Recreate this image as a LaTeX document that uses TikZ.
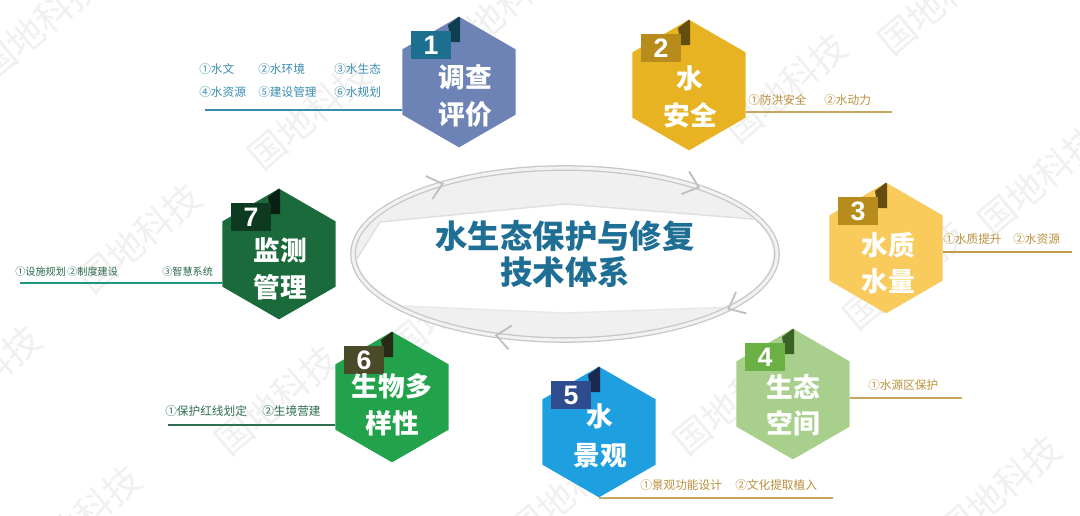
\documentclass[tikz,border=0pt]{standalone}
\usepackage{fontspec}
\usepackage{xcolor}
\usepackage{tikz}
\usetikzlibrary{shapes,arrows.meta,positioning,decorations.markings}

\newfontfamily\cjk{Noto Sans CJK SC}
\newfontfamily\numfont{Liberation Sans}

\definecolor{hexA}{HTML}{6D83B5}
\definecolor{hexB}{HTML}{E8B322}
\definecolor{hexC}{HTML}{F8CB5C}
\definecolor{hexD}{HTML}{A8D08C}
\definecolor{hexE}{HTML}{1E9FE0}
\definecolor{hexF}{HTML}{22A24A}
\definecolor{hexG}{HTML}{1B6A3C}
\definecolor{tabA}{HTML}{1D6F8F}
\definecolor{tabB}{HTML}{B88C1C}
\definecolor{tabD}{HTML}{6BB044}
\definecolor{tabE}{HTML}{2E4C8E}
\definecolor{tabF}{HTML}{494A28}
\definecolor{tabG}{HTML}{0E3A22}
\definecolor{coretext}{HTML}{1F6E94}
\definecolor{labA}{HTML}{3A8DB0}
\definecolor{labB}{HTML}{B8903A}
\definecolor{labF}{HTML}{2F6F4F}
\definecolor{labG}{HTML}{2A6A4A}

\begin{document}
\begin{tikzpicture}[x=0.025cm, y=-0.025cm,
    hexa/.style={regular polygon, regular polygon sides=6, shape border rotate=30,
        minimum size=3.25cm, inner sep=0pt},
    hextitle/.style={font=\cjk\bfseries\fontsize{19}{26}\selectfont, text=white, align=center, inner sep=0pt},
    numtab/.style={minimum width=1cm, minimum height=0.7cm, inner sep=0pt, text=white,
        font=\numfont\bfseries\fontsize{19}{19}\selectfont},
    itemtext/.style={font=\cjk\fontsize{8.3}{16.4}\selectfont, inner sep=0pt, anchor=west, align=left},
    labline/.style={line width=0.9pt},
    chev/.style={gray!50, line width=1.3pt},
    wmark/.style={font=\cjk\fontsize{26}{26}\selectfont, text=black!6, rotate=40, inner sep=0pt}
]
\useasboundingbox[fill=white] (0,0) rectangle (1080,515);

% watermark
\foreach \p [count=\i] in {(40,25),(310,115),(500,10),(786,88),(940,0),(1040,180),
    (140,238),(-20,380),(450,305),(905,275),(735,400),(570,490),(277,400),(80,520),(1000,490)}
    \node[wmark] (w\i) at \p {国地科技};

% centre
\coordinate (c0) at (565,254);
\fill[gray!12] (c0) ellipse [x radius=212, y radius=86];
\begin{scope}
    \clip (c0) ellipse [x radius=208, y radius=82];
    \fill[white] (355,262) -- (380,222) -- (565,204) -- (790,222) -- (790,305) -- (565,313) -- (380,305) -- cycle;
    \draw[gray!25, line width=1pt] (355,262) -- (380,222) -- (565,204) -- (790,222);
    \draw[gray!18, line width=1pt] (355,262) -- (380,305) -- (565,313) -- (790,305);
\end{scope}
\draw[draw=gray!45, double=gray!10, double distance=2.2pt, line width=0.9pt] (c0) ellipse [x radius=212, y radius=86];
\path[postaction={decorate}, decoration={markings,
        mark=at position 0.08 with {\arrow[chev]{Straight Barb[length=10pt, width=17pt]}},
        mark=at position 0.322 with {\arrow[chev]{Straight Barb[length=10pt, width=17pt]}},
        mark=at position 0.625 with {\arrow[chev]{Straight Barb[length=10pt, width=17pt]}},
        mark=at position 0.89 with {\arrow[chev]{Straight Barb[length=10pt, width=17pt]}}}]
    (c0) ellipse [x radius=212, y radius=86];
\node[font=\cjk\bfseries\fontsize{23}{25.6}\selectfont, text=coretext, align=center] (core) at (c0) {水生态保护与修复\\技术体系};

% underlines first, hexagons cover their ends
\coordinate (e1) at (205,110);
\coordinate (e2) at (892,112);
\coordinate (e3) at (1072,252);
\coordinate (e4) at (962,398);
\coordinate (e5) at (833,498);
\coordinate (e6) at (168,425);
\coordinate (e7) at (20,283);

\node[hexa] (h1) at (459,82) {};
\node[hexa] (h2) at (689,85) {};
\node[hexa] (h3) at (886,248) {};
\node[hexa] (h4) at (793,394) {};
\node[hexa] (h5) at (599,432) {};
\node[hexa] (h6) at (392,397) {};
\node[hexa] (h7) at (279,254) {};

\draw[labline, labA] (e1) -- (e1 -| h1.west);
\draw[labline, labB!80] (e2 -| h2.east) -- (e2);
\draw[labline, labB!90] (e3 -| h3.east) -- (e3);
\draw[labline, labB!80] (e4 -| h4.east) -- (e4);
\draw[labline, labB!80] (e5 -| h5.south) -- (e5);
\draw[labline, labF] (e6) -- (e6 -| h6.west);
\draw[labline, labG!70!cyan] (e7) -- (e7 -| h7.west);

\foreach \h/\c in {h1/hexA, h2/hexB, h3/hexC, h4/hexD, h5/hexE, h6/hexF, h7/hexG}
    \fill[\c] (\h.corner 1) -- (\h.corner 2) -- (\h.corner 3) -- (\h.corner 4) -- (\h.corner 5) -- (\h.corner 6) -- cycle;

% number tabs with a folded corner
\foreach \h/\c/\n in {h1/tabA/1, h2/tabB/2, h3/tabB/3, h4/tabD/4, h5/tabE/5, h6/tabF/6, h7/tabG/7} {
    \fill[\c!55!black] ([shift={(-11,-57)}]\h.center) -- (\h.90) -- ([shift={(1,-64)}]\h.center)
        -- ([shift={(1,-40)}]\h.center) -- ([shift={(-8,-40)}]\h.center) -- cycle;
    \node[numtab, fill=\c] (n\n) at ([shift={(-28,-37)}]\h.center) {\n};
}

\node[hextitle] (t1) at ([shift={(6,14)}]h1.center) {调查\\评价};
\node[hextitle] (t2) at ([shift={(1,12)}]h2.center) {水\\安全};
\node[hextitle] (t3) at ([shift={(2,15)}]h3.center) {水质\\水量};
\node[hextitle] (t4) at ([shift={(0,11)}]h4.center) {生态\\空间};
\node[hextitle, font=\cjk\bfseries\fontsize{19}{28}\selectfont] (t5) at ([shift={(1,4)}]h5.center) {水\\景观};
\node[hextitle] (t6) at ([shift={(0,8)}]h6.center) {生物多\\样性};
\node[hextitle] (t7) at ([shift={(1,15)}]h7.center) {监测\\管理};

% sub items
\node[itemtext, text=labA] (s1) at (199,80.5)
    {\makebox[1.475cm][l]{①水文}\makebox[1.9cm][l]{②水环境}③水生态\\
     \makebox[1.475cm][l]{④水资源}\makebox[1.9cm][l]{⑤建设管理}⑥水规划};
\node[itemtext, text=labB] (s2) at (748,100) {\makebox[1.9cm][l]{①防洪安全}②水动力};
\node[itemtext, text=labB] (s3) at (943,239) {\makebox[1.75cm][l]{①水质提升}②水资源};
\node[itemtext, text=labB] (s4) at (868,385) {①水源区保护};
\node[itemtext, text=labB] (s5) at (640,485) {\makebox[2.375cm][l]{①景观功能设计}②文化提取植入};
\node[itemtext, text=labF] (s6) at (165,411) {\makebox[2.425cm][l]{①保护红线划定}②生境营建};
\node[itemtext, text=labG, font=\cjk\fontsize{7.2}{10}\selectfont] (s7) at (15,272)
    {\makebox[1.3cm][l]{①设施规划}\makebox[2.375cm][l]{②制度建设}③智慧系统};
\end{tikzpicture}
\end{document}
